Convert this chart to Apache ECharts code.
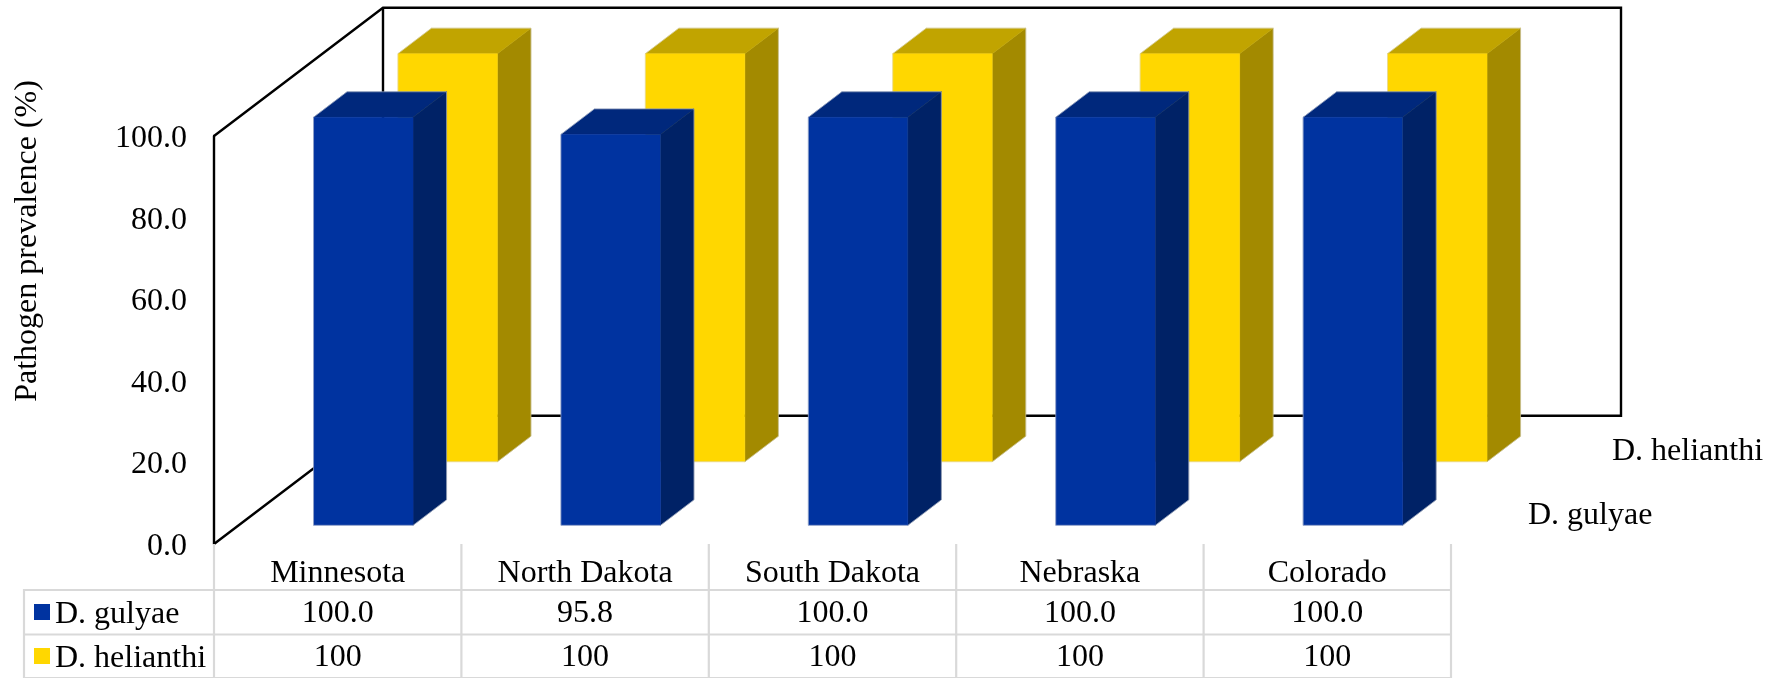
<!DOCTYPE html>
<html>
<head>
<meta charset="utf-8">
<style>html,body{margin:0;padding:0;background:#fff}#c{width:1781px;height:678px}</style>
<script src="https://cdn.jsdelivr.net/npm/echarts@6/dist/echarts.min.js"></script>
</head>
<body>
<div id="c"></div>
<script>
var categories = ['Minnesota', 'North Dakota', 'South Dakota', 'Nebraska', 'Colorado'];
var gulyae = [100.0, 95.8, 100.0, 100.0, 100.0];
var helianthi = [100, 100, 100, 100, 100];
var nameGulyae = 'D. gulyae';
var nameHelianthi = 'D. helianthi';
var axisTitle = 'Pathogen prevalence (%)';

var FONT = '"Liberation Serif","Times New Roman",serif';
var FS = 32;
var GRID = {left: 214, top: 136, width: 1237, height: 408};
var WALL_D = [169, -128.3];
var LINE = '#d9d9d9';

var chart = echarts.init(document.getElementById('c'), null, {renderer: 'canvas'});

function barItem(offX, offY, colors) {
  var w = 99.5, dx = 33.5, dy = -25.5;
  return function (params, api) {
    var idx = api.value(0);
    var p0 = api.coord([idx, 0]);
    var p1 = api.coord([idx, api.value(1)]);
    var xl = p0[0] + offX - w / 2, xr = xl + w;
    var yb = p0[1] + offY, yt = p1[1] + offY;
    function poly(pts, fill) {
      return {type: 'polygon', shape: {points: pts}, style: {fill: fill, stroke: fill, lineWidth: 0.5}};
    }
    return {type: 'group', children: [
      poly([[xr, yb], [xr + dx, yb + dy], [xr + dx, yt + dy], [xr, yt]], colors.side),
      poly([[xl, yt], [xl + dx, yt + dy], [xr + dx, yt + dy], [xr, yt]], colors.top),
      poly([[xl, yb], [xl, yt], [xr, yt], [xr, yb]], colors.front),
      {type: 'polygon',
       shape: {points: [[xl, yb], [xl, yt], [xl + dx, yt + dy], [xr + dx, yt + dy], [xr + dx, yb + dy], [xr, yb]]},
       style: {fill: null, stroke: 'rgba(217,217,217,0.5)', lineWidth: 1}}
    ]};
  };
}

function wallsItem(params, api) {
  var cs = params.coordSys;
  var L = cs.x, R = cs.x + cs.width, T = cs.y, B = cs.y + cs.height;
  var dx = WALL_D[0], dy = WALL_D[1];
  var st = {stroke: '#000', lineWidth: 2.4, fill: null, lineJoin: 'miter'};
  return {type: 'group', children: [
    {type: 'polyline', shape: {points: [[L, T], [L + dx, T + dy], [R + dx + 1, T + dy], [R + dx + 1, B + dy], [L + dx, B + dy], [L, B]]}, style: st},
    {type: 'line', shape: {x1: L + dx, y1: T + dy, x2: L + dx, y2: B + dy}, style: st}
  ]};
}

function tableGridItem(params, api) {
  var cs = params.coordSys;
  var L = cs.x, R = cs.x + cs.width, B = cs.y + cs.height;
  var st = {stroke: LINE, lineWidth: 2.2};
  var rows = [590, 634.5, 678];
  var kids = [];
  rows.forEach(function (y) {
    kids.push({type: 'line', shape: {x1: 24, y1: y, x2: R + 1, y2: y}, style: st});
  });
  kids.push({type: 'line', shape: {x1: 24, y1: 589, x2: 24, y2: 678}, style: st});
  categories.concat(['']).forEach(function (c, i) {
    var x = L + cs.width / categories.length * i;
    kids.push({type: 'line', shape: {x1: x, y1: B, x2: x, y2: 678}, style: st});
  });
  return {type: 'group', children: kids};
}

function tableTextItem(rowY, digits) {
  return function (params, api) {
    var p = api.coord([api.value(0), 0]);
    return {type: 'text', style: {
      text: api.value(1).toFixed(digits), x: p[0], y: rowY,
      textAlign: 'center', textVerticalAlign: 'middle',
      font: FS + 'px ' + FONT, fill: '#000'
    }};
  };
}

function pairs(arr) { return arr.map(function (v, i) { return [i, v]; }); }
var enc = {x: 0, y: 1};
var shifted = {fontFamily: FONT, fontSize: FS, color: '#000', lineHeight: 32, padding: [5, 0, 0, 0]};

chart.setOption({
  animation: false,
  backgroundColor: '#fff',
  grid: GRID,
  legend: {
    data: [nameGulyae, nameHelianthi],
    orient: 'vertical', left: 34, top: 593.5,
    itemWidth: 16, itemHeight: 16, itemGap: 7, padding: 0, icon: 'rect',
    selectedMode: false,
    formatter: '{a|{name}}',
    textStyle: {fontFamily: FONT, fontSize: FS, color: '#000', rich: {a: shifted}}
  },
  xAxis: {
    type: 'category', data: categories, boundaryGap: true,
    axisLine: {show: false}, axisTick: {show: false}, splitLine: {show: false},
    axisLabel: {fontFamily: FONT, fontSize: FS, color: '#000', margin: 14, interval: 0}
  },
  yAxis: {
    type: 'value', min: 0, max: 100, interval: 20,
    name: axisTitle, nameLocation: 'middle', nameRotate: 90, nameGap: 170,
    nameTextStyle: {fontFamily: FONT, fontSize: FS, color: '#000', padding: [0, 0, 0, 198]},
    axisLine: {show: true, lineStyle: {color: '#000', width: 2.4}},
    axisTick: {show: false}, splitLine: {show: false},
    axisLabel: {fontFamily: FONT, fontSize: FS, color: '#000', margin: 27, rich: {a: shifted},
      formatter: function (v) { return '{a|' + v.toFixed(1) + '}'; }}
  },
  graphic: [
    {type: 'text', left: 1612, top: 436, style: {text: nameHelianthi, font: FS + 'px ' + FONT, fill: '#000'}},
    {type: 'text', left: 1528, top: 499.5, style: {text: nameGulyae, font: FS + 'px ' + FONT, fill: '#000'}}
  ],
  series: [
    {type: 'custom', name: 'walls', z: 1, silent: true, data: [[0, 0]], encode: enc, renderItem: wallsItem},
    {type: 'custom', name: 'table', z: 1, silent: true, data: [[0, 0]], encode: enc, renderItem: tableGridItem},
    {type: 'custom', name: nameHelianthi, z: 2, data: pairs(helianthi), encode: enc,
      itemStyle: {color: '#FFD700'},
      renderItem: barItem(110, -82.3, {front: '#FFD700', side: '#A38A00', top: '#C1A400'})},
    {type: 'custom', name: nameGulyae, z: 3, data: pairs(gulyae), encode: enc,
      itemStyle: {color: '#0033A0'},
      renderItem: barItem(25.6, -18.7, {front: '#0033A0', side: '#002266', top: '#00287C'})},
    {type: 'custom', name: 'tableGulyae', z: 4, data: pairs(gulyae), encode: enc, renderItem: tableTextItem(613.5, 1)},
    {type: 'custom', name: 'tableHelianthi', z: 4, data: pairs(helianthi), encode: enc, renderItem: tableTextItem(658, 0)}
  ]
});
</script>
</body>
</html>
